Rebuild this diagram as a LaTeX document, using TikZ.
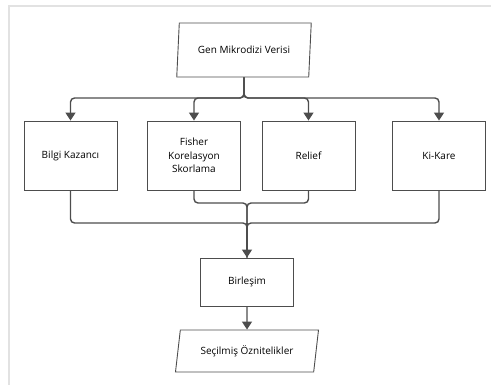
\documentclass[tikz,border=0pt]{standalone}
\usepackage{fontspec}
\setmainfont{Open Sans}
\usepackage{tikz}
\usetikzlibrary{positioning,arrows.meta,shapes.geometric}

\definecolor{edgegray}{HTML}{4D4D4D}
\definecolor{framegray}{HTML}{E2E2E2}

\tikzset{
  algo/.style={draw=edgegray, line width=0.9pt, fill=white, minimum width=93pt,
    minimum height=69pt, align=center, inner sep=2pt, font=\fontsize{10}{13.5}\selectfont},
  io/.style={draw=edgegray, line width=0.9pt, trapezium, trapezium left angle=80,
    trapezium right angle=100, trapezium stretches body, minimum width=134.5pt,
    minimum height=54pt, font=\fontsize{10}{13.5}\selectfont},
  link/.style={draw=edgegray, line width=1.4pt, rounded corners=4pt},
  arr/.style={link, -{Triangle[length=8pt, width=10pt]}},
}

\begin{document}
\begin{tikzpicture}[x=1pt, y=-1pt, node distance=105.5pt, on grid]
    \useasboundingbox (0,0) rectangle (491,385);
    \draw[framegray, line width=2pt] (9,385) -- (9,6) -- (491,6);

    \node[io] (data) at (244,50) {Gen Mikrodizi Verisi};
    \node[algo, below left=105.5pt and 173.5pt of data] (ig) {Bilgi Kazancı};
    \node[algo, right=123.5pt of ig] (fs) {Fisher\\Korelasyon\\Skorlama};
    \node[algo, right=114.5pt of fs] (rf) {Relief};
    \node[algo, right=130.5pt of rf] (chi) {Ki-Kare};
    \node[algo, minimum height=48pt, below right=232pt and 3pt of data] (merge) {Birleşim};
    \node[io, trapezium left angle=75, trapezium right angle=105, minimum width=143pt,
      minimum height=42pt, below=69pt of merge] (sel) {Seçilmiş Öznitelikler};

    \coordinate (split) at (data.south |- 0,98);
    \coordinate (j1) at (merge.north |- 0,203);
    \coordinate (j2) at (merge.north |- 0,223);

    % fan out
    \foreach \b in {ig,fs,rf,chi}
      \draw[arr] (data.south) -- (split) -| (\b.north);

    % gather
    \draw[link] (fs.south) |- (j1) -- (j2);
    \draw[link] (rf.south) |- (j1) -- (j2);
    \draw[link] (ig.south) |- (j2) -- (merge.north);
    \draw[link] (chi.south) |- (j2) -- (merge.north);
    \draw[arr] (j2) -- (merge.north);
    \draw[arr] (merge.south) -- (sel.north);
\end{tikzpicture}
\end{document}
